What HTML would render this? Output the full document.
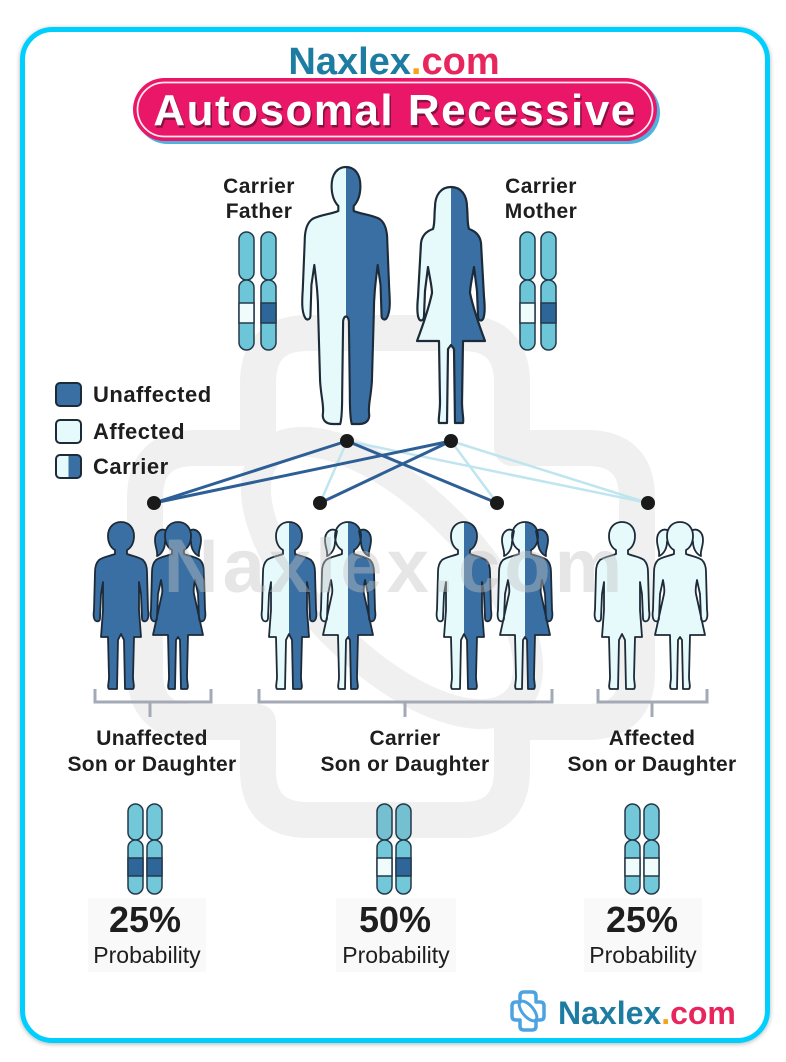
<!DOCTYPE html>
<html><head><meta charset="utf-8">
<style>
html,body{margin:0;padding:0;background:#fff;}
svg{display:block;}
text{font-family:"Liberation Sans",Arial,sans-serif;}
</style></head>
<body>
<svg width="786" height="1062" viewBox="0 0 786 1062" xmlns="http://www.w3.org/2000/svg">
<defs>
  <filter id="fsh" x="-5%" y="-5%" width="110%" height="110%"><feDropShadow dx="0" dy="1" stdDeviation="2.5" flood-color="#000" flood-opacity="0.3"/></filter>
  <clipPath id="rh" clipPathUnits="userSpaceOnUse"><rect x="0" y="-20" width="200" height="400"/></clipPath>
  <clipPath id="lgc" clipPathUnits="userSpaceOnUse"><rect x="68.5" y="440" width="30" height="50"/></clipPath>
  <path id="man" d="M0,0 C9,0 15,7 15,19 C15,29 12,35 8,39 L8,44 C15,47 28,48 35,52 C41,56 43,64 43,74 L45,122 C46,136 46,144 43,150 C41,154 37,153 37,148 L36,118 L33,98 C31,114 29,128 29,146 L27,214 C26,230 23,238 24,246 C25,252 22,257 14,257 L6,257 C4,250 4,238 4,228 L3,154 C2,148 -2,148 -3,154 L-4,228 C-4,238 -4,250 -6,257 L-14,257 C-22,257 -25,252 -24,246 C-23,238 -26,230 -27,214 L-29,146 C-29,128 -31,114 -33,98 L-36,118 L-37,148 C-37,153 -41,154 -43,150 C-46,144 -46,136 -45,122 L-43,74 C-43,64 -41,56 -35,52 C-28,48 -15,47 -8,44 L-8,39 C-12,35 -15,29 -15,19 C-15,7 -9,0 0,0 Z"/>
  <path id="woman" d="M0,0 C10,0 16,8 16,20 C17,30 16,36 18,42 C24,44 29,48 30,56 L33,110 C34,120 34,128 32,132 C30,135 27,133 27,129 L26,104 L23,80 C21,92 19,100 19,106 C22,120 28,138 34,154 L12,154 L11,215 C11,226 13,232 12,236 L4,236 L3,162 L0,158 L-3,162 L-4,236 L-12,236 C-13,232 -11,226 -11,215 L-12,154 L-34,154 C-28,138 -22,120 -19,106 C-19,100 -21,92 -23,80 L-26,104 L-27,129 C-27,133 -30,135 -32,132 C-34,128 -34,120 -33,110 L-30,56 C-29,48 -24,44 -18,42 C-16,36 -17,30 -16,20 C-16,8 -10,0 0,0 Z"/>
  <path id="boy" d="M0,0 C8,0 13,6 13,14 C13,21 10,26 6,28 L6,32 C11,34 18,35 22,38 C25,41 26,45 26,50 L27,88 C28,94 27,98 25,99 C23,100 21,99 21,96 L20,72 L18,60 L18,88 L20,115 L13,115 L12,155 C12,161 14,165 12,167 L4,167 L3,118 L0,112 L-3,118 L-4,167 L-12,167 C-14,165 -12,161 -12,155 L-13,115 L-20,115 L-18,88 L-18,60 L-20,72 L-21,96 C-21,99 -23,100 -25,99 C-27,98 -28,94 -27,88 L-26,50 C-26,45 -25,41 -22,38 C-18,35 -11,34 -6,32 L-6,28 C-10,26 -13,21 -13,14 C-13,6 -8,0 0,0 Z"/>
  <g id="girl">
    <path d="M11,9 C17,5 23,10 23,18 C23,25 20,29 21,34 C16,32 13,26 13,20 Z"/>
    <path d="M-11,9 C-17,5 -23,10 -23,18 C-23,25 -20,29 -21,34 C-16,32 -13,26 -13,20 Z"/>
    <path d="M0,0 C8,0 13,6 13,14 C13,21 10,26 6,28 L6,32 C11,34 18,35 22,38 C25,41 26,45 26,50 L27,88 C28,94 27,98 25,99 C23,100 21,99 21,96 L20,72 L17,58 C16,64 15,68 16,72 L25,113 L10,113 L9,155 C9,161 11,165 9,167 L3,167 L2,118 L0,115 L-2,118 L-3,167 L-9,167 C-11,165 -9,161 -9,155 L-10,113 L-25,113 L-16,72 C-15,68 -16,64 -17,58 L-20,72 L-21,96 C-21,99 -23,100 -25,99 C-27,98 -28,94 -27,88 L-26,50 C-26,45 -25,41 -22,38 C-18,35 -11,34 -6,32 L-6,28 C-10,26 -13,21 -13,14 C-13,6 -8,0 0,0 Z"/>
  </g>
</defs>

<!-- frame -->
<rect x="22.5" y="29.5" width="745" height="1011" rx="30" fill="#fff" stroke="#06cffd" stroke-width="5" filter="url(#fsh)"/>

<!-- watermark shapes -->
<g fill="none" stroke="#f0f0f0" stroke-width="36" stroke-linejoin="round">
  <path d="M308,333 L462,333 Q512,333 512,383 L512,448 L587,448 Q637,448 637,498 L637,672 Q637,722 587,722 L512,722 L512,770 Q512,820 462,820 L308,820 Q258,820 258,770 L258,722 L195,722 Q145,722 145,672 L145,498 Q145,448 195,448 L258,448 L258,383 Q258,333 308,333 Z"/>
  <ellipse cx="392" cy="578" rx="175" ry="80" transform="rotate(45 392 578)" stroke-width="30"/>
</g>

<!-- title -->
<text x="394" y="74" text-anchor="middle" font-size="38" font-weight="bold"><tspan fill="#1c7ca2">Naxlex</tspan><tspan fill="#f6a21c">.</tspan><tspan fill="#e8265e">com</tspan></text>
<rect x="136" y="81" width="524" height="63" rx="31.5" fill="#4fb2de"/>
<rect x="133" y="78" width="524" height="63" rx="31.5" fill="#ea1668"/>
<rect x="137.5" y="82.5" width="515" height="54" rx="27" fill="none" stroke="#fff" stroke-width="1.8" opacity="0.9"/>
<text x="396.5" y="127.5" text-anchor="middle" font-size="44" font-weight="bold" letter-spacing="1.5" fill="#5a0f2e" opacity="0.7">Autosomal Recessive</text>
<text x="395" y="125" text-anchor="middle" font-size="44" font-weight="bold" letter-spacing="1.5" fill="#fff">Autosomal Recessive</text>

<!-- parent labels -->
<g font-size="21" font-weight="bold" fill="#1e1e1e" text-anchor="middle" letter-spacing="0.4">
  <text x="259" y="193">Carrier</text>
  <text x="259" y="218">Father</text>
  <text x="541" y="193">Carrier</text>
  <text x="541" y="218">Mother</text>
</g>

<!-- parent chromosomes -->
<g stroke="#24394a" stroke-width="1.5">
  <g transform="translate(239,232)">
    <rect x="0" y="0" width="15" height="48" rx="7.5" fill="#6cc6d8"/>
    <rect x="0" y="48" width="15" height="70" rx="7.5" fill="#6cc6d8"/>
    <rect x="0" y="71" width="15" height="20" fill="#f0fbfc"/>
  </g>
  <g transform="translate(261,232)">
    <rect x="0" y="0" width="15" height="48" rx="7.5" fill="#6cc6d8"/>
    <rect x="0" y="48" width="15" height="70" rx="7.5" fill="#6cc6d8"/>
    <rect x="0" y="71" width="15" height="20" fill="#2f6699"/>
  </g>
  <g transform="translate(520,232)">
    <rect x="0" y="0" width="15" height="48" rx="7.5" fill="#6cc6d8"/>
    <rect x="0" y="48" width="15" height="70" rx="7.5" fill="#6cc6d8"/>
    <rect x="0" y="71" width="15" height="20" fill="#f0fbfc"/>
  </g>
  <g transform="translate(541,232)">
    <rect x="0" y="0" width="15" height="48" rx="7.5" fill="#6cc6d8"/>
    <rect x="0" y="48" width="15" height="70" rx="7.5" fill="#6cc6d8"/>
    <rect x="0" y="71" width="15" height="20" fill="#2f6699"/>
  </g>
</g>

<!-- parents -->
<g transform="translate(346,167) scale(0.96,1)">
  <use href="#man" fill="#e6f9fb"/>
  <use href="#man" fill="#3a6fa3" clip-path="url(#rh)"/>
  <use href="#man" fill="none" stroke="#1d2a38" stroke-width="2.2" stroke-linejoin="round"/>
</g>
<g transform="translate(451,187)">
  <use href="#woman" fill="#e6f9fb"/>
  <use href="#woman" fill="#3a6fa3" clip-path="url(#rh)"/>
  <use href="#woman" fill="none" stroke="#1d2a38" stroke-width="2.2" stroke-linejoin="round"/>
</g>

<!-- legend -->
<g stroke="#1d2a38" stroke-width="2">
  <rect x="56" y="383" width="25" height="23" rx="4" fill="#3a6fa3"/>
  <rect x="56" y="420" width="25" height="23" rx="4" fill="#e6f9fb"/>
  <rect x="56" y="455" width="25" height="23" rx="4" fill="#e6f9fb" stroke="none"/>
  <rect x="56" y="455" width="25" height="23" rx="4" fill="#3a6fa3" stroke="none" clip-path="url(#lgc)"/>
  <rect x="56" y="455" width="25" height="23" rx="4" fill="none"/>
</g>
<g font-size="22" font-weight="bold" fill="#1e1e1e" letter-spacing="0.5">
  <text x="93" y="402">Unaffected</text>
  <text x="93" y="439">Affected</text>
  <text x="93" y="474">Carrier</text>
</g>

<!-- connectors -->
<g stroke-linecap="round">
  <g stroke="#bfe5ef" stroke-width="2.5">
    <line x1="347" y1="441" x2="320" y2="503"/>
    <line x1="451" y1="441" x2="497" y2="503"/>
    <line x1="347" y1="441" x2="648" y2="503"/>
    <line x1="451" y1="441" x2="648" y2="503"/>
  </g>
  <g stroke="#2d5f96" stroke-width="3">
    <line x1="347" y1="441" x2="154" y2="503"/>
    <line x1="451" y1="441" x2="154" y2="503"/>
    <line x1="347" y1="441" x2="497" y2="503"/>
    <line x1="451" y1="441" x2="320" y2="503"/>
  </g>
  <g fill="#1a1a1a">
    <circle cx="347" cy="441" r="7"/>
    <circle cx="451" cy="441" r="7"/>
    <circle cx="154" cy="503" r="7"/>
    <circle cx="320" cy="503" r="7"/>
    <circle cx="497" cy="503" r="7"/>
    <circle cx="648" cy="503" r="7"/>
  </g>
</g>

<!-- children -->
<g transform="translate(121,522)">
  <use href="#boy" fill="#3a6fa3" stroke="#1d2a38" stroke-width="1.8" stroke-linejoin="round"/>
</g>
<g transform="translate(178,522)">
  <use href="#girl" fill="#3a6fa3" stroke="#1d2a38" stroke-width="1.8" stroke-linejoin="round"/>
</g>
<g transform="translate(289,522)">
  <use href="#boy" fill="#e6f9fb"/>
  <use href="#boy" fill="#3a6fa3" clip-path="url(#rh)"/>
  <use href="#boy" fill="none" stroke="#1d2a38" stroke-width="1.8" stroke-linejoin="round"/>
</g>
<g transform="translate(348,522)">
  <use href="#girl" fill="#e6f9fb"/>
  <use href="#girl" fill="#3a6fa3" clip-path="url(#rh)"/>
  <use href="#girl" fill="none" stroke="#1d2a38" stroke-width="1.8" stroke-linejoin="round"/>
</g>
<g transform="translate(464,522)">
  <use href="#boy" fill="#e6f9fb"/>
  <use href="#boy" fill="#3a6fa3" clip-path="url(#rh)"/>
  <use href="#boy" fill="none" stroke="#1d2a38" stroke-width="1.8" stroke-linejoin="round"/>
</g>
<g transform="translate(525,522)">
  <use href="#girl" fill="#e6f9fb"/>
  <use href="#girl" fill="#3a6fa3" clip-path="url(#rh)"/>
  <use href="#girl" fill="none" stroke="#1d2a38" stroke-width="1.8" stroke-linejoin="round"/>
</g>
<g transform="translate(622,522)">
  <use href="#boy" fill="#e6f9fb" stroke="#1d2a38" stroke-width="1.8" stroke-linejoin="round"/>
</g>
<g transform="translate(680,522)">
  <use href="#girl" fill="#e6f9fb" stroke="#1d2a38" stroke-width="1.8" stroke-linejoin="round"/>
</g>

<!-- watermark text -->
<text x="395" y="592" text-anchor="middle" font-size="76" font-weight="bold" letter-spacing="4" fill="#c4c4c4" fill-opacity="0.42">Naxlex.com</text>

<!-- brackets -->
<g fill="none" stroke="#a3aab5" stroke-width="3">
  <path d="M95,689 L95,702 L211,702 L211,689"/>
  <path d="M150,702 L150,717"/>
  <path d="M259,689 L259,702 L552,702 L552,689"/>
  <path d="M405,702 L405,717"/>
  <path d="M598,689 L598,702 L707,702 L707,689"/>
  <path d="M652,702 L652,717"/>
</g>

<!-- child labels -->
<g font-size="21" font-weight="bold" fill="#1e1e1e" text-anchor="middle" letter-spacing="0.3">
  <text x="152" y="745">Unaffected</text>
  <text x="152" y="771">Son or Daughter</text>
  <text x="405" y="745">Carrier</text>
  <text x="405" y="771">Son or Daughter</text>
  <text x="652" y="745">Affected</text>
  <text x="652" y="771">Son or Daughter</text>
</g>

<!-- bottom chromosomes -->
<g stroke="#24394a" stroke-width="1.5">
  <g transform="translate(128,804)">
    <rect x="0" y="0" width="15" height="36" rx="7.5" fill="#72c7d9"/>
    <rect x="0" y="36" width="15" height="54" rx="7.5" fill="#72c7d9"/>
    <rect x="0" y="54" width="15" height="18" fill="#2f6699"/>
  </g>
  <g transform="translate(147,804)">
    <rect x="0" y="0" width="15" height="36" rx="7.5" fill="#72c7d9"/>
    <rect x="0" y="36" width="15" height="54" rx="7.5" fill="#72c7d9"/>
    <rect x="0" y="54" width="15" height="18" fill="#2f6699"/>
  </g>
  <g transform="translate(377,804)">
    <rect x="0" y="0" width="15" height="36" rx="7.5" fill="#74bfd0"/>
    <rect x="0" y="36" width="15" height="54" rx="7.5" fill="#72c7d9"/>
    <rect x="0" y="54" width="15" height="18" fill="#f0fbfc"/>
  </g>
  <g transform="translate(396,804)">
    <rect x="0" y="0" width="15" height="36" rx="7.5" fill="#74bfd0"/>
    <rect x="0" y="36" width="15" height="54" rx="7.5" fill="#72c7d9"/>
    <rect x="0" y="54" width="15" height="18" fill="#2f6699"/>
  </g>
  <g transform="translate(625,804)">
    <rect x="0" y="0" width="15" height="36" rx="7.5" fill="#72c7d9"/>
    <rect x="0" y="36" width="15" height="54" rx="7.5" fill="#72c7d9"/>
    <rect x="0" y="54" width="15" height="18" fill="#f0fbfc"/>
  </g>
  <g transform="translate(644,804)">
    <rect x="0" y="0" width="15" height="36" rx="7.5" fill="#72c7d9"/>
    <rect x="0" y="36" width="15" height="54" rx="7.5" fill="#72c7d9"/>
    <rect x="0" y="54" width="15" height="18" fill="#f0fbfc"/>
  </g>
</g>

<!-- percentages -->
<g fill="#f9f9f9">
  <rect x="88" y="898" width="118" height="74"/>
  <rect x="336" y="898" width="120" height="74"/>
  <rect x="584" y="898" width="118" height="74"/>
</g>
<g fill="#1e1e1e" text-anchor="middle">
  <text x="145" y="932" font-size="36" font-weight="bold">25%</text>
  <text x="147" y="963" font-size="23">Probability</text>
  <text x="395" y="932" font-size="36" font-weight="bold">50%</text>
  <text x="396" y="963" font-size="23">Probability</text>
  <text x="642" y="932" font-size="36" font-weight="bold">25%</text>
  <text x="643" y="963" font-size="23">Probability</text>
</g>

<!-- bottom logo -->
<g transform="translate(511,990)" fill="none" stroke="#4da3e0" stroke-width="3.5" stroke-linejoin="round">
  <path d="M13,2 L21,2 Q25,2 25,6 L25,12 L29,12 Q33,12 33,16 L33,26 Q33,30 29,30 L25,30 L25,36 Q25,40 21,40 L13,40 Q9,40 9,36 L9,30 L5,30 Q1,30 1,26 L1,16 Q1,12 5,12 L9,12 L9,6 Q9,2 13,2 Z"/>
  <ellipse cx="17" cy="21" rx="12" ry="5.5" transform="rotate(50 17 21)" stroke-width="3"/>
</g>
<text x="558" y="1024" font-size="32" font-weight="bold"><tspan fill="#1c7ca2">Naxlex</tspan><tspan fill="#f6a21c">.</tspan><tspan fill="#e8265e">com</tspan></text>
</svg>
</body></html>
